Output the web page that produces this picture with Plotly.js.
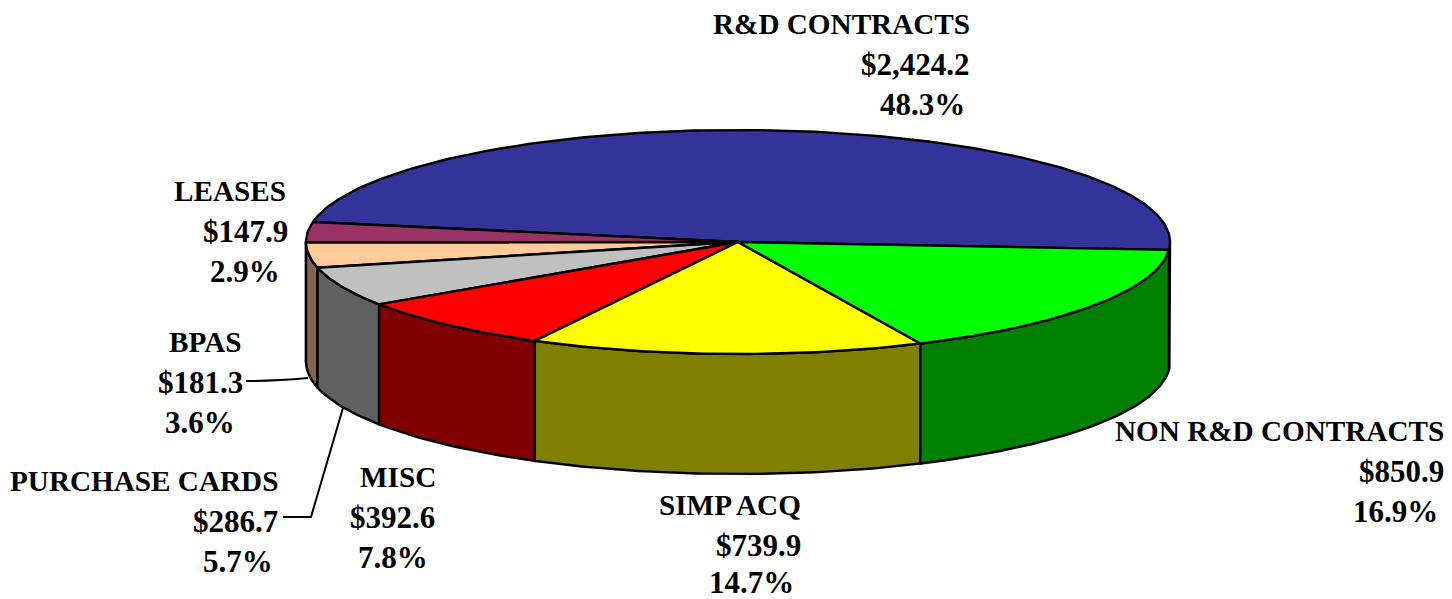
<!DOCTYPE html>
<html>
<head>
<meta charset="utf-8">
<script src="https://cdn.plot.ly/plotly-3.0.1.min.js"></script>
<style>html,body{margin:0;padding:0;background:#fff;overflow:hidden}#chart{width:1452px;height:599px}</style>
</head>
<body>
<div id="chart"></div>
<script>
// Data, in drawing order (counter-clockwise from the R&D slice)
var categories = ['R&D CONTRACTS', 'LEASES', 'BPAS', 'PURCHASE CARDS', 'MISC', 'SIMP ACQ', 'NON R&D CONTRACTS'];
var amounts = [2424.2, 147.9, 181.3, 286.7, 392.6, 739.9, 850.9];
var percents = ['48.3%', '2.9%', '3.6%', '5.7%', '7.8%', '14.7%', '16.9%'];
var topColors = ['#333399', '#993366', '#FFCC99', '#C0C0C0', '#FF0000', '#FFFF00', '#00FF00'];
var sideColors = ['#1A1A4D', '#4D1A33', '#806650', '#606060', '#800000', '#808000', '#008000'];

// Pie geometry on the chart's axes
var cx = 738, cy = 242, rx = 432, ry = 112, depth = 120, startDeg = -4.05;

// Label placement: right edge of name/value/percent lines, y of the first line, nudge of the last line
var labelRight = [[970, 970, 965], [286, 288, 280], [241, 243, 235], [278, 278, 273], [436, 435, 428], [801, 801, 794], [1444, 1444, 1438]];
var labelY = [24, 191, 342, 481, 477, 505, 431];
var lastLineNudge = [0, 0, 0, 0, 0, -3, 0];
var lineStep = 40;

var total = amounts.reduce(function (a, b) { return a + b; }, 0);
function pt(deg, drop) {
  var t = deg * Math.PI / 180;
  return [cx + rx * Math.cos(t), cy - ry * Math.sin(t) + (drop || 0)];
}
function arc(a, b, drop) {
  var out = [], n = Math.max(2, Math.ceil(Math.abs(b - a)));
  for (var i = 0; i <= n; i++) out.push(pt(a + (b - a) * i / n, drop));
  return out;
}
function poly(points, fill, width) {
  return {
    type: 'scatter', mode: 'lines', x: points.map(function (p) { return p[0]; }),
    y: points.map(function (p) { return p[1]; }), fill: 'toself', fillcolor: fill,
    line: { color: '#000000', width: width === undefined ? 2.4 : width }, hoverinfo: 'skip', showlegend: false
  };
}

var spans = [], cur = startDeg;
amounts.forEach(function (v) { var d = v / total * 360; spans.push([cur, cur + d]); cur += d; });

var traces = [];
// Visible wall: only the lower half of the rim (180..360 degrees, plus wrap-around at the start)
spans.forEach(function (s, i) {
  var ranges = [[Math.max(s[0], 180), Math.min(s[1], 360)], [Math.max(s[0] + 360, 180), Math.min(s[1] + 360, 360)]];
  ranges.forEach(function (r) {
    if (r[1] <= r[0]) return;
    var pts = arc(r[0], r[1], 0).concat(arc(r[1], r[0], depth));
    pts.push(pts[0]);
    traces.push(poly(pts, sideColors[i]));
  });
});
// Top face
spans.forEach(function (s, i) {
  var pts = [[cx, cy]].concat(arc(s[0], s[1], 0));
  pts.push([cx, cy]);
  traces.push(poly(pts, topColors[i]));
});

function money(v) {
  return '$' + v.toFixed(1).replace(/\B(?=(\d{3})+(?!\d))/g, ',');
}
var annotations = [];
categories.forEach(function (c, i) {
  [c, money(amounts[i]), percents[i]].forEach(function (txt, j) {
    annotations.push({
      xref: 'x', yref: 'y', x: labelRight[i][j],
      y: labelY[i] + j * lineStep + (j === 2 ? lastLineNudge[i] : 0), text: txt.replace(/&/g, '&amp;'),
      xanchor: 'right', yanchor: 'middle', showarrow: false, align: 'right',
      borderpad: 0, xshift: 1,
      font: { family: '"Liberation Serif", serif', size: j === 0 ? 29.2 : 31, color: '#000000', weight: 700 }
    });
  });
});

var layout = {
  width: 1452, height: 599, margin: { l: 0, r: 0, t: 0, b: 0 },
  paper_bgcolor: '#ffffff', plot_bgcolor: '#ffffff', showlegend: false,
  xaxis: { range: [0, 1452], visible: false, fixedrange: true },
  yaxis: { range: [599, 0], visible: false, fixedrange: true },
  annotations: annotations,
  shapes: [
    { type: 'path', xref: 'x', yref: 'y', path: 'M246,381 Q275,381 308,378', line: { color: '#000', width: 2 } },
    { type: 'path', xref: 'x', yref: 'y', path: 'M283,517 L311,517 L343,408', line: { color: '#000', width: 2 } }
  ]
};
Plotly.newPlot('chart', traces, layout, { displayModeBar: false, staticPlot: true });
</script>
</body>
</html>
